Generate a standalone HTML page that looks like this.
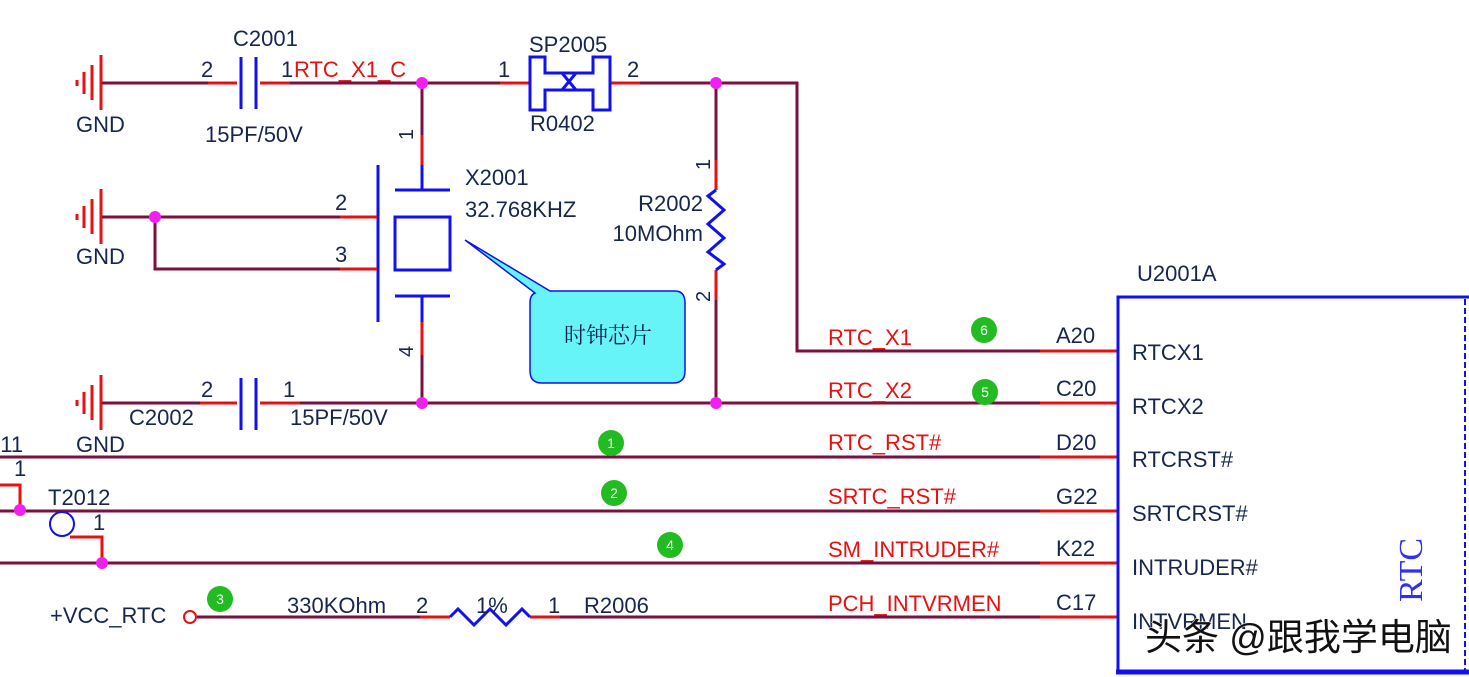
<!DOCTYPE html>
<html><head><meta charset="utf-8"><style>
html,body{margin:0;padding:0;background:#fff;}
svg{display:block;}
text{font-family:"Liberation Sans",sans-serif;font-size:22px;fill:#17264f;}
.r{fill:#e81010;}
.w{stroke:#7a1040;stroke-width:3;fill:none;}
.p{stroke:#e81010;stroke-width:3;fill:none;}
.b{stroke:#1010f0;stroke-width:3;fill:none;}
.n{fill:#f020f0;}
.g{fill:#22bb22;}
.gt{fill:#fff;font-size:14px;text-anchor:middle;}
</style></head><body>
<svg width="1469" height="677" viewBox="0 0 1469 677" xmlns="http://www.w3.org/2000/svg">
<defs>
<g id="gnd"><path d="M101 -28V27M92 -18V17M84 -11V11M77 -3V3" stroke="#e81010" stroke-width="3"/></g>
</defs>
<use href="#gnd" transform="translate(0,83)"/>
<text x="76" y="132">GND</text>
<path class="w" d="M102 83H208M290 83H500M640 83H797V351H1040"/>
<path class="p" d="M208 83H237M260 83H290M500 83H530M610 83H640M1040 351H1118"/>
<path class="b" d="M241 57V109M256 57V109"/>
<text x="201" y="77">2</text><text x="281" y="77">1</text><text class="r" x="294" y="77">RTC_X1_C</text>
<text x="233" y="46">C2001</text><text x="205" y="142">15PF/50V</text>
<path class="b" d="M530 57H545V73H593V57H610V110H593V90H545V110H530Z M562 73L576 90M576 73L562 90"/>
<text x="529" y="52">SP2005</text><text x="530" y="131">R0402</text>
<text x="498" y="77">1</text><text x="627" y="77">2</text>
<path class="w" d="M422 83V135M422 355V403"/>
<path class="p" d="M422 135V165M422 322V355"/>
<path class="b" d="M422 165V190M395 190H450M378 165V322M395 217H450V270H395Z M395 296H450M422 296V322"/>
<text transform="translate(413,140) rotate(-90)" style="font-size:20px">1</text>
<text transform="translate(413,357) rotate(-90)" style="font-size:20px">4</text>
<text x="465" y="185">X2001</text><text x="465" y="217">32.768KHZ</text>
<use href="#gnd" transform="translate(0,217)"/>
<text x="76" y="264">GND</text>
<path class="w" d="M102 217H340M155 217V269H340"/>
<path class="p" d="M340 217H377M340 269H377"/>
<text x="335" y="210">2</text><text x="335" y="262">3</text>
<path class="w" d="M716 83V160M716 300V403"/>
<path class="p" d="M716 160V190M716 270V300"/>
<path class="b" d="M716 190L708 196L724 210L708 224L724 238L708 252L724 264L716 270" stroke-width="2.5"/>
<text transform="translate(710,170) rotate(-90)" style="font-size:20px">1</text>
<text transform="translate(710,302) rotate(-90)" style="font-size:20px">2</text>
<text x="703" y="211" text-anchor="end">R2002</text><text x="703" y="241" text-anchor="end">10MOhm</text>
<path d="M465 240L550 291H675Q685 291 685 303V371Q685 383 673 383H542Q530 383 530 371V303Q530 295 535 293Z" fill="#66f4f8" stroke="#1010f0" stroke-width="1.5"/>
<text x="608" y="343" text-anchor="middle" style="font-family:'Noto Serif CJK SC',serif;font-size:22px;fill:#102050">时钟芯片</text>
<use href="#gnd" transform="translate(0,403)"/>
<text x="76" y="452">GND</text>
<path class="w" d="M102 403H200M300 403H1040"/>
<path class="p" d="M200 403H237M260 403H300M1040 403H1118"/>
<path class="b" d="M241 378V430M256 378V430"/>
<text x="201" y="397">2</text><text x="283" y="397">1</text>
<text x="129" y="425">C2002</text><text x="290" y="425">15PF/50V</text>
<path class="w" d="M0 457H1040M0 511H1040M0 563H1040M197 617H420M560 617H1040"/>
<path class="p" d="M1040 457H1118M1040 511H1118M1040 563H1118M1040 617H1118M420 617H450M530 617H560"/>
<path class="p" d="M0 485H20V510M70 537H102V563"/>
<path class="b" d="M450 617L458 609L474 625L490 609L506 625L522 609L530 617" stroke-width="2.5"/>
<circle cx="62" cy="524" r="12" fill="none" stroke="#1010f0" stroke-width="2"/>
<circle cx="190" cy="617" r="6" fill="#fff" stroke="#e81010" stroke-width="2"/>
<text x="-12" y="452">011</text><text x="14" y="476">1</text><text x="48" y="505">T2012</text><text x="93" y="530">1</text>
<text x="50" y="623">+VCC_RTC</text>
<text x="287" y="613">330KOhm</text><text x="416" y="613">2</text><text x="476" y="613">1%</text><text x="548" y="613">1</text><text x="584" y="613">R2006</text>
<circle class="n" cx="422" cy="83" r="6"/><circle class="n" cx="716" cy="83" r="6"/>
<circle class="n" cx="155" cy="217" r="6"/><circle class="n" cx="422" cy="403" r="6"/>
<circle class="n" cx="716" cy="403" r="6"/><circle class="n" cx="20" cy="510" r="6"/>
<circle class="n" cx="102" cy="563" r="6"/>
<text class="r" x="828" y="345">RTC_X1</text><text class="r" x="828" y="398">RTC_X2</text>
<text class="r" x="828" y="450">RTC_RST#</text><text class="r" x="828" y="504">SRTC_RST#</text>
<text class="r" x="828" y="557">SM_INTRUDER#</text><text class="r" x="828" y="611">PCH_INTVRMEN</text>
<text x="1056" y="343">A20</text><text x="1056" y="396">C20</text><text x="1056" y="450">D20</text>
<text x="1056" y="504">G22</text><text x="1056" y="556">K22</text><text x="1056" y="610">C17</text>
<circle class="g" cx="984" cy="330" r="13"/><text class="gt" x="984" y="335">6</text>
<circle class="g" cx="985" cy="392" r="13"/><text class="gt" x="985" y="397">5</text>
<circle class="g" cx="611" cy="443" r="13"/><text class="gt" x="611" y="448">1</text>
<circle class="g" cx="614" cy="493" r="13"/><text class="gt" x="614" y="498">2</text>
<circle class="g" cx="670" cy="545" r="13"/><text class="gt" x="670" y="550">4</text>
<circle class="g" cx="220" cy="599" r="13"/><text class="gt" x="220" y="604">3</text>
<path d="M1118 672V297H1469" stroke="#1010f0" stroke-width="3" fill="none"/>
<path d="M1116 672H1469" stroke="#1010f0" stroke-width="5"/>
<path d="M1465 299V670" stroke="#1010f0" stroke-width="2" stroke-dasharray="6 3"/>
<text x="1137" y="281">U2001A</text>
<text x="1132" y="360">RTCX1</text><text x="1132" y="414">RTCX2</text><text x="1132" y="467">RTCRST#</text>
<text x="1132" y="521">SRTCRST#</text><text x="1132" y="575">INTRUDER#</text><text x="1132" y="629">INTVRMEN</text>
<text transform="translate(1422,602) rotate(-90)" style="font-family:'Liberation Serif',serif;font-size:34px;fill:#3030f0">RTC</text>
<text x="1145" y="650" style="font-family:'Liberation Sans','Noto Sans CJK SC',sans-serif;font-size:37px;fill:#111;stroke:#fff;stroke-width:1;paint-order:stroke">头条 @跟我学电脑</text>
</svg>
</body></html>
